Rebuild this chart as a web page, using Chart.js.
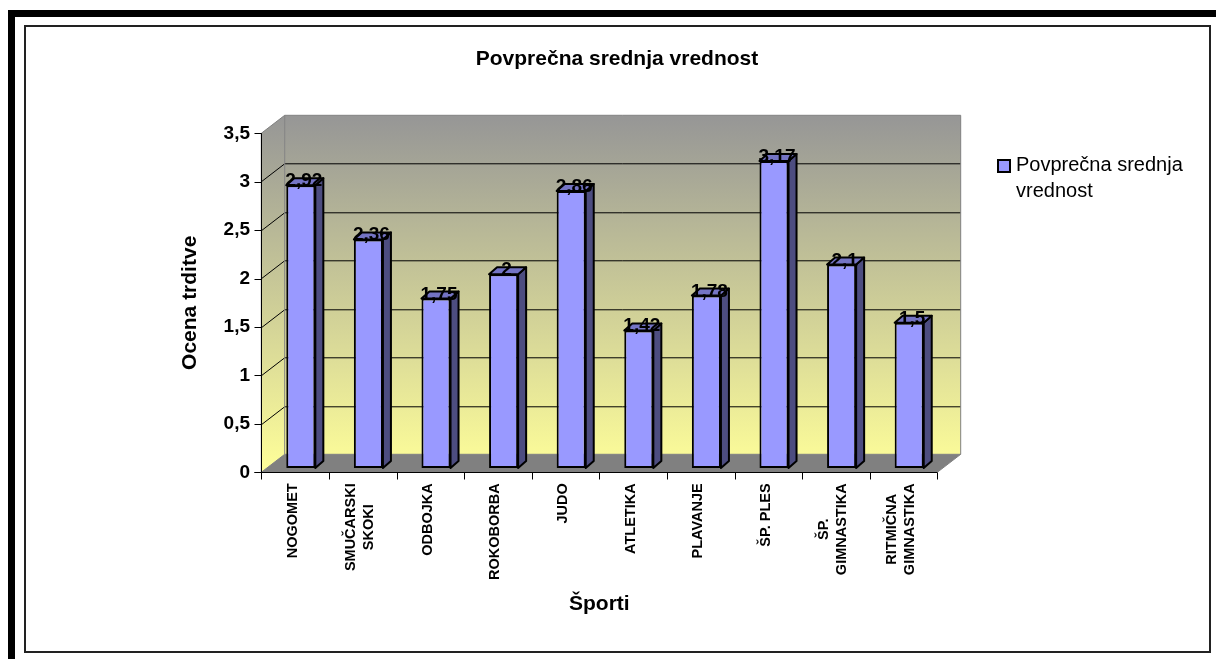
<!DOCTYPE html>
<html>
<head>
<meta charset="utf-8">
<script src="https://cdn.jsdelivr.net/npm/chart.js@4.4.1/dist/chart.umd.min.js"></script>
<style>
  body { margin: 0; background: #fff; }
  canvas { display: block; }
</style>
</head>
<body>
<canvas id="chart" width="1216" height="659"></canvas>
<script>
// data
const sports = [['NOGOMET'], ['SMUČARSKI', 'SKOKI'], ['ODBOJKA'], ['ROKOBORBA'], ['JUDO'],
  ['ATLETIKA'], ['PLAVANJE'], ['ŠP. PLES'], ['ŠP.', 'GIMNASTIKA'], ['RITMIČNA', 'GIMNASTIKA']];
const averages = [2.92, 2.36, 1.75, 2, 2.86, 1.42, 1.78, 3.17, 2.1, 1.5];
const yTicks = [0, 0.5, 1, 1.5, 2, 2.5, 3, 3.5];
const chartTitle = 'Povprečna srednja vrednost';
const seriesName = 'Povprečna srednja vrednost';
const yTitle = 'Ocena trditve';
const xTitle = 'Športi';

const FONT = 'Arial, "Liberation Sans", sans-serif';
// depth offsets of the front plane and back wall relative to the bar plane
const FRONT = { x: -5.7, y: 4.3 };
const BACK = { x: 17.7, y: -13.7 };
const BAR_D = { x: 8, y: -7 };

const fmt = v => String(v).replace('.', ',');

function poly(ctx, pts) {
  ctx.beginPath();
  ctx.moveTo(pts[0][0], pts[0][1]);
  for (let i = 1; i < pts.length; i++) ctx.lineTo(pts[i][0], pts[i][1]);
  ctx.closePath();
}

const scene = {
  id: 'scene',
  beforeDraw(chart) {
    const { ctx, chartArea: a, scales: { x, y } } = chart;
    ctx.save();

    // page frame
    ctx.fillStyle = '#000';
    ctx.fillRect(8, 10, 1208, 7);
    ctx.fillRect(8, 10, 7, 649);
    ctx.strokeStyle = '#222';
    ctx.lineWidth = 2;
    ctx.strokeRect(25, 26, 1185, 626);

    const yTop = y.getPixelForValue(y.max);
    const yBot = y.getPixelForValue(0);
    const fl = a.left + FRONT.x, fr = a.right + FRONT.x;
    const bl = a.left + BACK.x, br = a.right + BACK.x;

    const grad = ctx.createLinearGradient(0, yTop + BACK.y, 0, yBot + FRONT.y);
    grad.addColorStop(0, '#969696');
    grad.addColorStop(1, '#ffff99');

    // back wall
    ctx.fillStyle = grad;
    ctx.fillRect(bl, yTop + BACK.y, br - bl, yBot - yTop);
    // side wall
    poly(ctx, [[fl, yBot + FRONT.y], [fl, yTop + FRONT.y], [bl, yTop + BACK.y], [bl, yBot + BACK.y]]);
    ctx.fill();
    // floor
    ctx.fillStyle = '#808080';
    poly(ctx, [[fl, yBot + FRONT.y], [fr, yBot + FRONT.y], [br, yBot + BACK.y], [bl, yBot + BACK.y]]);
    ctx.fill();

    // gridlines
    ctx.strokeStyle = '#000';
    ctx.lineWidth = 1;
    yTicks.forEach(v => {
      if (v === 0 || v === y.max) return;
      const p = Math.round(y.getPixelForValue(v)) + 0.5;
      ctx.beginPath();
      ctx.moveTo(fl, p + FRONT.y);
      ctx.lineTo(bl, p + BACK.y);
      ctx.lineTo(br, p + BACK.y);
      ctx.stroke();
    });

    // wall edges
    ctx.strokeStyle = '#808080';
    poly(ctx, [[fl, yBot + FRONT.y], [fl, yTop + FRONT.y], [bl, yTop + BACK.y], [br, yTop + BACK.y],
      [br, yBot + BACK.y], [fr, yBot + FRONT.y]]);
    ctx.stroke();
    ctx.beginPath();
    ctx.moveTo(fl, yBot + FRONT.y);
    ctx.lineTo(bl, yBot + BACK.y);
    ctx.lineTo(br, yBot + BACK.y);
    ctx.moveTo(bl, yBot + BACK.y);
    ctx.lineTo(bl, yTop + BACK.y);
    ctx.stroke();

    // front axes with tick marks
    ctx.strokeStyle = '#000';
    const ax = Math.round(fl) + 0.5;
    const ay = Math.round(yBot + FRONT.y) + 0.5;
    ctx.beginPath();
    ctx.moveTo(ax, yTop + FRONT.y);
    ctx.lineTo(ax, ay);
    yTicks.forEach(v => {
      const p = Math.round(y.getPixelForValue(v) + FRONT.y) + 0.5;
      ctx.moveTo(ax - 7, p);
      ctx.lineTo(ax, p);
    });
    ctx.moveTo(ax - 7, ay);
    ctx.lineTo(fr, ay);
    for (let i = 0; i <= sports.length; i++) {
      const px = Math.round(x.getPixelForValue(i - 0.5) + FRONT.x) + 0.5;
      ctx.moveTo(px, ay);
      ctx.lineTo(px, ay + 7);
    }
    ctx.stroke();
    ctx.restore();
  },

  afterDatasetsDraw(chart) {
    const { ctx } = chart;
    const meta = chart.getDatasetMeta(0);
    ctx.save();
    ctx.strokeStyle = '#000';
    ctx.lineWidth = 2;
    ctx.lineJoin = 'round';
    meta.data.forEach((bar, i) => {
      const { x: cx, y: ty, base, width } = bar.getProps(['x', 'y', 'base', 'width'], true);
      const l = cx - width / 2, r = cx + width / 2;
      ctx.fillStyle = '#4d4d80';
      poly(ctx, [[r, ty], [r + BAR_D.x, ty + BAR_D.y], [r + BAR_D.x, base + BAR_D.y], [r, base]]);
      ctx.fill();
      ctx.stroke();
      ctx.fillStyle = '#7474c4';
      poly(ctx, [[l, ty], [l + BAR_D.x, ty + BAR_D.y], [r + BAR_D.x, ty + BAR_D.y], [r, ty]]);
      ctx.fill();
      ctx.stroke();
    });
    // value labels
    ctx.fillStyle = '#000';
    ctx.font = 'bold 19px ' + FONT;
    ctx.textAlign = 'center';
    ctx.textBaseline = 'alphabetic';
    meta.data.forEach((bar, i) => {
      ctx.fillText(fmt(averages[i]), bar.x + 3, bar.y + 1);
    });
    ctx.restore();
  },

  afterDraw(chart) {
    const { ctx, chartArea: a, scales: { x, y } } = chart;
    ctx.save();
    ctx.fillStyle = '#000';
    ctx.textAlign = 'center';
    ctx.textBaseline = 'middle';

    ctx.font = 'bold 21px ' + FONT;
    ctx.fillText(chartTitle, 617, 59);
    ctx.fillText(xTitle, (a.left + a.right) / 2 + FRONT.x, 604);
    ctx.save();
    ctx.translate(190, (a.top + a.bottom) / 2 + FRONT.y);
    ctx.rotate(-Math.PI / 2);
    ctx.fillText(yTitle, 0, 0);
    ctx.restore();

    // category labels, rotated, lines centred within the block
    ctx.font = 'bold 14.5px ' + FONT;
    const labelTop = y.getPixelForValue(0) + FRONT.y + 11;
    sports.forEach((lines, i) => {
      const cx = x.getPixelForValue(i) + FRONT.x - 2.5;
      const w = Math.max(...lines.map(t => ctx.measureText(t).width));
      lines.forEach((t, k) => {
        ctx.save();
        ctx.translate(cx + (k - (lines.length - 1) / 2) * 18, labelTop + w / 2);
        ctx.rotate(-Math.PI / 2);
        ctx.fillText(t, 0, 0);
        ctx.restore();
      });
    });

    // legend
    ctx.fillStyle = '#9999ff';
    ctx.fillRect(998, 160, 12, 12);
    ctx.strokeStyle = '#000';
    ctx.lineWidth = 2;
    ctx.strokeRect(998, 160, 12, 12);
    ctx.fillStyle = '#000';
    ctx.font = '20px ' + FONT;
    ctx.textAlign = 'left';
    ctx.textBaseline = 'alphabetic';
    const words = seriesName.split(' ');
    const legendLines = [];
    let line = '';
    words.forEach(wd => {
      const test = line ? line + ' ' + wd : wd;
      if (ctx.measureText(test).width > 185 && line) { legendLines.push(line); line = wd; }
      else line = test;
    });
    legendLines.push(line);
    legendLines.forEach((t, k) => ctx.fillText(t, 1016, 171 + k * 25.5));
    ctx.restore();
  }
};

new Chart(document.getElementById('chart'), {
  type: 'bar',
  data: {
    labels: sports,
    datasets: [{
      label: seriesName,
      data: averages,
      backgroundColor: '#9999ff',
      borderColor: '#000',
      borderWidth: 2,
      borderSkipped: false,
      categoryPercentage: 1,
      barPercentage: 0.43
    }]
  },
  options: {
    responsive: false,
    animation: false,
    devicePixelRatio: 1,
    layout: { padding: { left: 167, top: 129, right: 273, bottom: 41 } },
    plugins: {
      legend: { display: false },
      title: { display: false },
      tooltip: { enabled: false }
    },
    scales: {
      x: {
        grid: { display: false, drawTicks: false },
        border: { display: false },
        ticks: { display: false },
        afterFit: s => { s.height = 150; }
      },
      y: {
        min: 0,
        max: 3.5,
        grid: { display: false, drawTicks: false },
        border: { display: false },
        afterBuildTicks: s => { s.ticks = yTicks.map(v => ({ value: v })); },
        ticks: {
          padding: 17,
          labelOffset: FRONT.y,
          color: '#000',
          font: { family: FONT, size: 19, weight: 'bold' },
          callback: v => fmt(v)
        },
        afterFit: s => { s.width = 100; }
      }
    }
  },
  plugins: [scene]
});
</script>
</body>
</html>
